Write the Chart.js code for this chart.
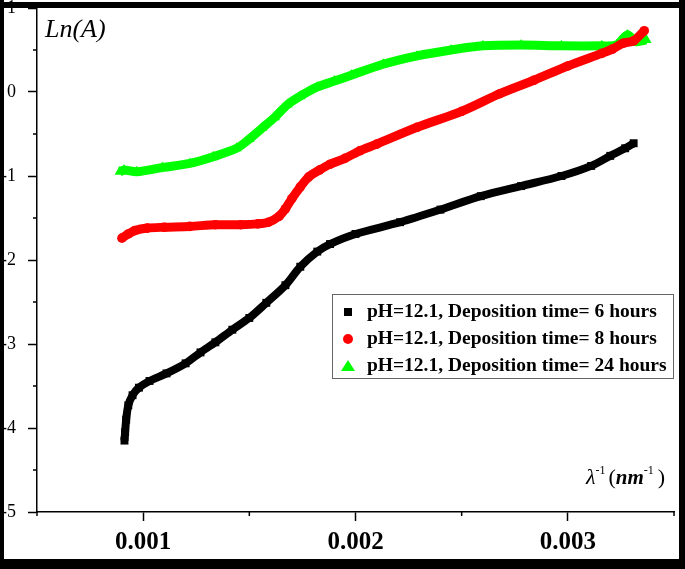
<!DOCTYPE html>
<html>
<head>
<meta charset="utf-8">
<script src="https://cdn.jsdelivr.net/npm/chart.js"></script>
<style>
  body { margin: 0; background: #fff; }
  canvas { display: block; }
</style>
</head>
<body>
<canvas id="chart" width="685" height="569"></canvas>
<script>
// values: x = 1/lambda (nm^-1), y = Ln(A)
const seriesLabels = [
  "pH=12.1, Deposition time= 6 hours",
  "pH=12.1, Deposition time= 8 hours",
  "pH=12.1, Deposition time= 24 hours",
];

const invLambda6h = [0.000912, 0.000915, 0.00092, 0.00093, 0.00095, 0.00098, 0.00103, 0.00111, 0.0012, 0.00127,
  0.00134, 0.00142, 0.0015, 0.00158, 0.00167, 0.00174, 0.00182, 0.00188, 0.002, 0.00221,
  0.0024, 0.00259, 0.00278, 0.00297, 0.00311, 0.0032, 0.00327, 0.00331];
const lnA6h = [-4.15, -4.05, -3.9, -3.73, -3.61, -3.52, -3.44, -3.35, -3.23, -3.1,
  -2.98, -2.83, -2.69, -2.51, -2.3, -2.08, -1.9, -1.81, -1.69, -1.55,
  -1.4, -1.24, -1.12, -1.0, -0.88, -0.76, -0.67, -0.61];

const invLambda8h = [0.0009, 0.00093, 0.00096, 0.00102, 0.0011, 0.00122, 0.00134, 0.00146, 0.00154, 0.00159,
  0.00164, 0.00167, 0.0017, 0.00174, 0.00178, 0.00183, 0.00188, 0.00195, 0.00202, 0.0021,
  0.00229, 0.0025, 0.00268, 0.00284, 0.003, 0.00316, 0.00321, 0.00326, 0.00331, 0.00336];
const lnA8h = [-1.74, -1.69, -1.65, -1.62, -1.61, -1.6, -1.58, -1.58, -1.57, -1.55,
  -1.48, -1.39, -1.27, -1.13, -1.01, -0.93, -0.86, -0.79, -0.7, -0.62,
  -0.42, -0.23, -0.02, 0.14, 0.31, 0.46, 0.51, 0.58, 0.61, 0.73];

const invLambda24h = [0.00089, 0.00091, 0.00097, 0.00109, 0.00122, 0.00133, 0.00144, 0.0015, 0.00156, 0.00162,
  0.00168, 0.00174, 0.00182, 0.0019, 0.00198, 0.00213, 0.00229, 0.00245, 0.0026, 0.00278,
  0.00297, 0.00316, 0.00323, 0.00328, 0.00332, 0.00337];
const lnA24h = [-0.95, -0.93, -0.95, -0.9, -0.85, -0.77, -0.67, -0.56, -0.43, -0.3,
  -0.15, -0.05, 0.06, 0.13, 0.2, 0.33, 0.43, 0.5, 0.55, 0.56,
  0.55, 0.55, 0.56, 0.68, 0.6, 0.62];

const xTicks = [0.001, 0.002, 0.003];
const yTicks = [1, 0, -1, -2, -3, -4, -5];

const toPoints = (xs, ys) => xs.map((x, i) => ({ x: x, y: ys[i] }));

const serif = '"Liberation Serif", "Times New Roman", serif';

// short ticks half way between the labelled ones
const minorTicks = {
  id: "minorTicks",
  afterDraw(chart) {
    const { ctx, scales: { x, y } } = chart;
    ctx.save();
    ctx.strokeStyle = "#000";
    ctx.lineWidth = 1.5;
    ctx.beginPath();
    for (let v = x.min; v <= x.max + 1e-9; v += 0.001) {
      const px = x.getPixelForValue(v);
      ctx.moveTo(px, y.bottom);
      ctx.lineTo(px, y.bottom + 4);
    }
    for (let v = y.min + 0.5; v < y.max; v += 1) {
      const py = y.getPixelForValue(v);
      ctx.moveTo(x.left, py);
      ctx.lineTo(x.left - 4, py);
    }
    ctx.stroke();
    ctx.restore();
  },
};

function drawMarker(ctx, style, cx, cy, color) {
  ctx.fillStyle = color;
  ctx.beginPath();
  if (style === "rect") {
    ctx.rect(cx - 4, cy - 4, 8, 8);
  } else if (style === "circle") {
    ctx.arc(cx, cy, 5, 0, Math.PI * 2);
  } else {
    ctx.moveTo(cx, cy - 6);
    ctx.lineTo(cx + 7, cy + 5);
    ctx.lineTo(cx - 7, cy + 5);
    ctx.closePath();
  }
  ctx.fill();
}

const decorations = {
  id: "decorations",
  afterDraw(chart) {
    const ctx = chart.ctx;
    ctx.save();

    // legend box
    ctx.strokeStyle = "#666";
    ctx.lineWidth = 1;
    ctx.strokeRect(332.5, 294.5, 341, 84);
    ctx.font = "bold 19.5px " + serif;
    ctx.textBaseline = "middle";
    ctx.textAlign = "left";
    chart.data.datasets.forEach((ds, i) => {
      const rowY = 312 + i * 27;
      drawMarker(ctx, ds.pointStyle, 348, rowY, ds.backgroundColor);
      ctx.fillStyle = "#000";
      ctx.fillText(ds.label, 367, rowY);
    });

    // y title
    ctx.fillStyle = "#000";
    ctx.textBaseline = "alphabetic";
    ctx.font = "italic 26px " + serif;
    ctx.fillText("Ln(A)", 45, 37);

    // x title with superscripts
    let cx = 586;
    const base = 484;
    const part = (txt, font, dy) => {
      ctx.font = font;
      ctx.fillText(txt, cx, base + dy);
      cx += ctx.measureText(txt).width;
    };
    part("\u03bb", "italic 22px " + serif, 0);
    part("-1", "12px " + serif, -10);
    cx += 3;
    part("(", "22px " + serif, 0);
    part("nm", "bold italic 21px " + serif, 0);
    part("-1", "12px " + serif, -10);
    cx += 4;
    part(")", "22px " + serif, 0);

    // picture frame
    ctx.fillStyle = "#000";
    ctx.fillRect(0, 2, 685, 6);
    ctx.fillRect(0, 0, 4, 569);
    ctx.fillRect(679, 0, 6, 569);
    ctx.fillRect(0, 559, 685, 10);
    ctx.restore();
  },
};

const lineSet = (label, xs, ys, color, style, radius, width) => ({
  label: label,
  data: toPoints(xs, ys),
  showLine: true,
  borderColor: color,
  backgroundColor: color,
  borderWidth: width,
  tension: 0.3,
  pointStyle: style,
  pointRadius: radius,
  pointBorderWidth: 0,
});

new Chart(document.getElementById("chart"), {
  type: "scatter",
  data: {
    datasets: [
      lineSet(seriesLabels[0], invLambda6h, lnA6h, "#000000", "rect", 5.6, 8),
      lineSet(seriesLabels[1], invLambda8h, lnA8h, "#ff0000", "circle", 4.8, 9),
      lineSet(seriesLabels[2], invLambda24h, lnA24h, "#00ff00", "triangle", 6, 9),
    ],
  },
  options: {
    responsive: false,
    animation: false,
    layout: { autoPadding: false, padding: { top: 8, right: 11, bottom: 0, left: 0 } },
    plugins: { legend: { display: false }, tooltip: { enabled: false } },
    scales: {
      x: {
        type: "linear",
        min: 0.0005,
        max: 0.0035,
        afterBuildTicks: (s) => { s.ticks = xTicks.map((v) => ({ value: v })); },
        afterFit: (s) => { s.height = 57; },
        ticks: {
          color: "#000",
          padding: 7,
          font: { family: serif, size: 25, weight: "bold" },
          callback: (v) => v.toFixed(3),
        },
        grid: { drawOnChartArea: false, tickLength: 9, tickColor: "#000", tickWidth: 1.5 },
        border: { color: "#000", width: 1.5 },
      },
      y: {
        min: -5,
        max: 1,
        afterBuildTicks: (s) => { s.ticks = yTicks.map((v) => ({ value: v })); },
        afterFit: (s) => { s.width = 37; s.paddingTop = 0; s.paddingBottom = 0; },
        ticks: {
          color: "#000",
          padding: 12,
          font: { family: serif, size: 18 },
        },
        grid: { drawOnChartArea: false, tickLength: 9, tickColor: "#000", tickWidth: 1.5 },
        border: { color: "#000", width: 1.5 },
      },
    },
  },
  plugins: [minorTicks, decorations],
});
</script>
</body>
</html>
